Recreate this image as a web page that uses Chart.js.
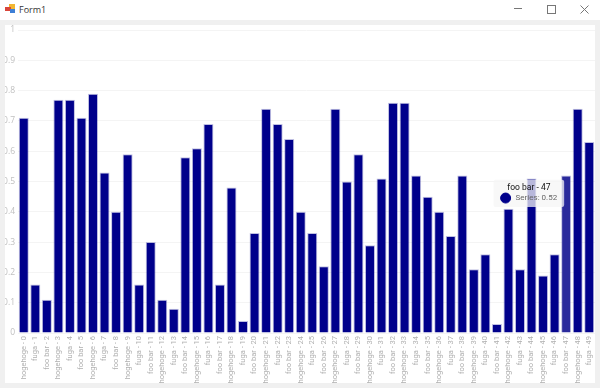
<!DOCTYPE html>
<html>
<head>
<meta charset="utf-8">
<script src="https://cdn.jsdelivr.net/npm/chart.js@4"></script>
<style>
html, body { margin: 0; padding: 0; background: #f0f0f0; overflow: hidden; }
body { width: 600px; height: 388px; position: relative; font-family: "Open Sans", sans-serif; }
#titlebar { position: absolute; left: 0; top: 0; width: 600px; height: 20px; background: #fff; }
#title { position: absolute; left: 19px; top: 2px; font-size: 9px; line-height: 16px; color: #333; }
.icon { position: absolute; }
#wrap { position: absolute; left: 5px; top: 25px; width: 590px; height: 358px; background: #fff; }
</style>
</head>
<body>
<div id="titlebar">
    <div class="icon" style="left:9px;top:4px;width:6px;height:6px;background:#f2b632"></div>
    <div class="icon" style="left:5px;top:7px;width:6px;height:4px;background:#d9453a"></div>
    <div class="icon" style="left:10px;top:9px;width:5px;height:4px;background:#3d7fd6"></div>
    <div id="title">Form1</div>
    <div class="icon" style="left:514px;top:8px;width:8px;height:1px;background:#777"></div>
    <div class="icon" style="left:547px;top:5px;width:7px;height:7px;border:1px solid #777"></div>
    <svg class="icon" style="left:580px;top:5px" width="9" height="9"><path d="M0.5 0.5L8.5 8.5M8.5 0.5L0.5 8.5" stroke="#777" fill="none"/></svg>
</div>
<div id="wrap"><canvas id="chart1" width="590" height="358"></canvas></div>
<script>
// Данные графика
const categories = [
    'hogehoge - 0', 'fuga - 1', 'foo bar - 2', 'hogehoge - 3', 'fuga - 4',
    'foo bar - 5', 'hogehoge - 6', 'fuga - 7', 'foo bar - 8', 'hogehoge - 9',
    'fuga - 10', 'foo bar - 11', 'hogehoge - 12', 'fuga - 13', 'foo bar - 14',
    'hogehoge - 15', 'fuga - 16', 'foo bar - 17', 'hogehoge - 18', 'fuga - 19',
    'foo bar - 20', 'hogehoge - 21', 'fuga - 22', 'foo bar - 23', 'hogehoge - 24',
    'fuga - 25', 'foo bar - 26', 'hogehoge - 27', 'fuga - 28', 'foo bar - 29',
    'hogehoge - 30', 'fuga - 31', 'foo bar - 32', 'hogehoge - 33', 'fuga - 34',
    'foo bar - 35', 'hogehoge - 36', 'fuga - 37', 'foo bar - 38', 'hogehoge - 39',
    'fuga - 40', 'foo bar - 41', 'hogehoge - 42', 'fuga - 43', 'foo bar - 44',
    'hogehoge - 45', 'fuga - 46', 'foo bar - 47', 'hogehoge - 48', 'fuga - 49'
];
const seriesValues = [
    0.71, 0.16, 0.11, 0.77, 0.77, 0.71, 0.79, 0.53, 0.40, 0.59,
    0.16, 0.30, 0.11, 0.08, 0.58, 0.61, 0.69, 0.16, 0.48, 0.04,
    0.33, 0.74, 0.69, 0.64, 0.40, 0.33, 0.22, 0.74, 0.50, 0.59,
    0.29, 0.51, 0.76, 0.76, 0.52, 0.45, 0.40, 0.32, 0.52, 0.21,
    0.26, 0.03, 0.41, 0.21, 0.51, 0.19, 0.26, 0.52, 0.74, 0.63
];
const hoverIndex = 47;

// Подсказка слева от столбца
Chart.Tooltip.positioners.leftOfBar = function (items) {
    if (!items.length) return false;
    return { x: items[0].element.x, y: items[0].element.y + 18, xAlign: 'right', yAlign: 'center' };
};

const chart = new Chart(document.getElementById('chart1').getContext('2d'), {
    type: 'bar',
    data: {
        labels: categories,
        datasets: [{
            label: 'Series',
            data: seriesValues,
            backgroundColor: '#00008b',
            borderColor: 'rgba(0, 0, 139, 0.25)',
            borderWidth: 1,
            hoverBackgroundColor: '#2a2a9c',
            hoverBorderColor: 'rgba(0, 0, 139, 0.25)',
            barPercentage: 0.87,
            categoryPercentage: 1
        }]
    },
    options: {
        responsive: false,
        animation: false,
        layout: { padding: { left: 0, right: 0, top: 5, bottom: 0 } },
        scales: {
            x: {
                grid: { display: false, drawTicks: false },
                border: { display: false },
                ticks: {
                    autoSkip: false, minRotation: 90, maxRotation: 90, padding: 3,
                    color: '#b0b0b0',
                    font: { family: 'Roboto', size: 7.5 }
                },
                // без лишних отступов от подписей
                afterFit(axis) { axis.height = 50; axis.paddingLeft = 0; axis.paddingRight = 0; }
            },
            y: {
                min: 0,
                max: 1,
                grid: { color: '#f4f4f4', drawTicks: false },
                border: { display: false },
                ticks: {
                    stepSize: 0.1, padding: 3,
                    color: '#c0c0c0',
                    font: { family: 'Open Sans', size: 8.5 },
                    callback: v => String(+v.toFixed(1))
                },
                afterFit(axis) { axis.width = 13; axis.paddingTop = 0; axis.paddingBottom = 0; }
            }
        },
        plugins: {
            legend: { display: false },
            tooltip: {
                position: 'leftOfBar',
                backgroundColor: 'rgba(245, 245, 245, 0.75)',
                titleColor: '#111',
                bodyColor: '#666',
                titleFont: { family: 'Roboto', size: 8.5, weight: 'normal' },
                bodyFont: { family: 'Roboto', size: 8 },
                titleAlign: 'center',
                titleMarginBottom: 0,
                padding: { left: 7, right: 7, top: 3, bottom: 4 },
                caretSize: 0,
                cornerRadius: 2,
                usePointStyle: true,
                boxWidth: 10,
                boxHeight: 10,
                boxPadding: 3,
                callbacks: {
                    labelColor: () => ({ backgroundColor: '#00008b', borderColor: '#00008b' }),
                    labelPointStyle: () => ({ pointStyle: 'circle', rotation: 0 })
                }
            }
        }
    }
});

// Наведение на столбец 47, как на исходной картинке
const active = [{ datasetIndex: 0, index: hoverIndex }];
chart.setActiveElements(active);
chart.tooltip.setActiveElements(active, { x: 0, y: 0 });
chart.update();
</script>
</body>
</html>
